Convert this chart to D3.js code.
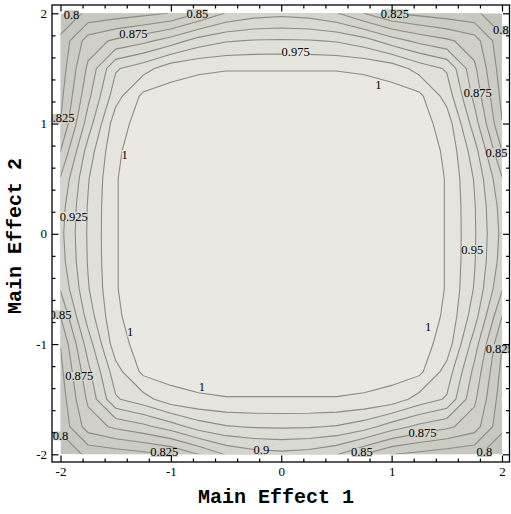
<!DOCTYPE html>
<html>
<head>
<meta charset="utf-8">
<title>Main effects contour</title>
<script src="https://cdn.jsdelivr.net/npm/d3@7"></script>
<style>
  body { margin: 0; background: #fff; }
  .tick text { font: 13px "Liberation Serif", serif; fill: #000; }
  .tick line { stroke: #000; stroke-width: 1.2px; }
  .title { font: bold 20px "Liberation Mono", monospace; fill: #000; }
  .clabel { font: 12.5px "Liberation Serif", serif; fill: #000; }
</style>
</head>
<body>
<script>
// contour levels drawn in the picture
var levels = [0.8, 0.825, 0.85, 0.875, 0.9, 0.925, 0.95, 0.975, 1];

// sampled surface, x = -2..2 step 0.25 (columns), y = 2..-2 step 0.25 (rows)
var surface = [
  [0.780, 0.806, 0.811, 0.818, 0.826, 0.850, 0.877, 0.889, 0.893, 0.889, 0.877, 0.850, 0.826, 0.818, 0.811, 0.806, 0.780],
  [0.806, 0.862, 0.880, 0.893, 0.912, 0.936, 0.948, 0.952, 0.953, 0.952, 0.948, 0.936, 0.912, 0.893, 0.880, 0.862, 0.806],
  [0.811, 0.880, 0.947, 0.965, 0.990, 0.997, 0.999, 0.999, 0.999, 0.999, 0.999, 0.997, 0.990, 0.965, 0.947, 0.880, 0.811],
  [0.818, 0.893, 0.965, 1.006, 1.010, 1.010, 1.010, 1.010, 1.010, 1.010, 1.010, 1.010, 1.010, 1.006, 0.965, 0.893, 0.818],
  [0.826, 0.912, 0.990, 1.010, 1.010, 1.010, 1.010, 1.010, 1.010, 1.010, 1.010, 1.010, 1.010, 1.010, 0.990, 0.912, 0.826],
  [0.850, 0.936, 0.997, 1.010, 1.010, 1.010, 1.010, 1.010, 1.010, 1.010, 1.010, 1.010, 1.010, 1.010, 0.997, 0.936, 0.850],
  [0.877, 0.948, 0.999, 1.010, 1.010, 1.010, 1.010, 1.010, 1.010, 1.010, 1.010, 1.010, 1.010, 1.010, 0.999, 0.948, 0.877],
  [0.889, 0.952, 0.999, 1.010, 1.010, 1.010, 1.010, 1.010, 1.010, 1.010, 1.010, 1.010, 1.010, 1.010, 0.999, 0.952, 0.889],
  [0.893, 0.953, 0.999, 1.010, 1.010, 1.010, 1.010, 1.010, 1.010, 1.010, 1.010, 1.010, 1.010, 1.010, 0.999, 0.953, 0.893],
  [0.889, 0.952, 0.999, 1.010, 1.010, 1.010, 1.010, 1.010, 1.010, 1.010, 1.010, 1.010, 1.010, 1.010, 0.999, 0.952, 0.889],
  [0.877, 0.948, 0.999, 1.010, 1.010, 1.010, 1.010, 1.010, 1.010, 1.010, 1.010, 1.010, 1.010, 1.010, 0.999, 0.948, 0.877],
  [0.850, 0.936, 0.997, 1.010, 1.010, 1.010, 1.010, 1.010, 1.010, 1.010, 1.010, 1.010, 1.010, 1.010, 0.997, 0.936, 0.850],
  [0.826, 0.912, 0.990, 1.010, 1.010, 1.010, 1.010, 1.010, 1.010, 1.010, 1.010, 1.010, 1.010, 1.010, 0.990, 0.912, 0.826],
  [0.818, 0.893, 0.965, 1.006, 1.010, 1.010, 1.010, 1.010, 1.010, 1.010, 1.010, 1.010, 1.010, 1.006, 0.965, 0.893, 0.818],
  [0.811, 0.880, 0.947, 0.965, 0.990, 0.997, 0.999, 0.999, 0.999, 0.999, 0.999, 0.997, 0.990, 0.965, 0.947, 0.880, 0.811],
  [0.806, 0.862, 0.880, 0.893, 0.912, 0.936, 0.948, 0.952, 0.953, 0.952, 0.948, 0.936, 0.912, 0.893, 0.880, 0.862, 0.806],
  [0.780, 0.806, 0.811, 0.818, 0.826, 0.850, 0.877, 0.889, 0.893, 0.889, 0.877, 0.850, 0.826, 0.818, 0.811, 0.806, 0.780]
];

// where the level labels sit: [level, x, y]
var labelSpots = [
  [0.8, -1.9, 1.99], [0.85, -0.76, 2.0], [0.825, 1.03, 2.0], [0.8, 1.99, 1.85],
  [0.875, -1.34, 1.82], [0.975, 0.13, 1.65], [1, 0.88, 1.35], [0.875, 1.78, 1.28],
  [0.825, -2.0, 1.05], [1, -1.42, 0.72], [0.85, 1.95, 0.74], [0.925, -1.88, 0.16],
  [0.95, 1.73, -0.14], [0.85, -2.0, -0.73], [1, -1.37, -0.89], [1, 1.33, -0.84],
  [0.825, 1.98, -1.04], [0.875, -1.83, -1.29], [1, -0.72, -1.39], [0.8, -2.0, -1.83],
  [0.875, 1.28, -1.8], [0.825, -1.06, -1.98], [0.9, -0.18, -1.96], [0.85, 0.73, -1.98],
  [0.8, 1.84, -1.98]
];

var majorTicks = [-2, -1, 0, 1, 2];
var minorTicks = [-1.8, -1.6, -1.4, -1.2, -0.8, -0.6, -0.4, -0.2, 0.2, 0.4, 0.6, 0.8, 1.2, 1.4, 1.6, 1.8];

var width = 511, height = 514;
var step = 0.25, n = surface.length;
var frame = {left: 52, right: 509.5, top: 5, bottom: 462};

var x = d3.scaleLinear().domain([-2, 2]).range([60.5, 502]);
var y = d3.scaleLinear().domain([-2, 2]).range([454.3, 13.3]);

var shade = d3.range(levels.length + 1).map(function (i) {
    return d3.interpolateRgb("#c3c4bb", "#e9e9e1")(i / levels.length);
});

var svg = d3.select("body").append("svg")
    .attr("width", width)
    .attr("height", height);

svg.append("clipPath").attr("id", "plot")
    .append("rect")
    .attr("x", x(-2)).attr("y", y(2))
    .attr("width", x(2) - x(-2)).attr("height", y(-2) - y(2));

svg.append("clipPath").attr("id", "frame")
    .append("rect")
    .attr("x", frame.left).attr("y", frame.top)
    .attr("width", frame.right - frame.left).attr("height", frame.bottom - frame.top);

// grid coords -> data -> pixels
var proj = d3.geoTransform({
    point: function (cx, cy) {
        this.stream.point(x(-2 + (cx - 0.5) * step), y(2 - (cy - 0.5) * step));
    }
});
var path = d3.geoPath(proj);

var bands = d3.contours()
    .size([n, n])
    .thresholds(levels)(d3.merge(surface));

var plot = svg.append("g").attr("clip-path", "url(#plot)");

plot.append("rect")
    .attr("x", x(-2)).attr("y", y(2))
    .attr("width", x(2) - x(-2)).attr("height", y(-2) - y(2))
    .attr("fill", shade[0]);

plot.selectAll("path.band")
    .data(bands)
    .enter().append("path")
    .attr("class", "band")
    .attr("d", path)
    .attr("fill", function (d, i) { return shade[i + 1]; })
    .attr("stroke", "#8b8b87")
    .attr("stroke-width", 1.1);

// contour labels, each on a small patch of its band colour
var lab = svg.append("g")
    .attr("clip-path", "url(#frame)")
    .style("opacity", 0.999);   // keeps text antialiasing grey, not coloured
var lg = lab.selectAll("g")
    .data(labelSpots)
    .enter().append("g");

lg.append("text")
    .attr("class", "clabel")
    .attr("x", function (d) { return x(d[1]); })
    .attr("y", function (d) { return y(d[2]); })
    .attr("dy", "0.35em")
    .attr("text-anchor", "middle")
    .text(function (d) { return d[0]; });

lg.insert("rect", "text")
    .each(function (d) {
        var b = this.parentNode.querySelector("text").getBBox();
        d3.select(this)
            .attr("x", b.x + 0.5).attr("y", b.y + 2.5)
            .attr("width", b.width - 1).attr("height", b.height - 5)
            .attr("fill", shade[levels.indexOf(d[0]) + 1]);
    });

// frame
svg.append("rect")
    .attr("x", frame.left).attr("y", frame.top)
    .attr("width", frame.right - frame.left).attr("height", frame.bottom - frame.top)
    .attr("fill", "none")
    .attr("stroke", "#000")
    .attr("stroke-width", 1.3);

function ticks(axis, vals, size, labels) {
    return axis.tickValues(vals).tickSize(-size).tickPadding(5)
        .tickFormat(labels ? function (d) { return d3.format("d")(d).replace("−", "-"); } : "");
}

function drawAxis(axis, tr) {
    svg.append("g").attr("transform", tr).call(axis)
        .call(function (g) { g.select(".domain").remove(); });
}

drawAxis(ticks(d3.axisBottom(x), majorTicks, 6.5, true), "translate(0," + frame.bottom + ")");
drawAxis(ticks(d3.axisBottom(x), minorTicks, 3.5, false), "translate(0," + frame.bottom + ")");
drawAxis(ticks(d3.axisTop(x), majorTicks, 6.5, false), "translate(0," + frame.top + ")");
drawAxis(ticks(d3.axisTop(x), minorTicks, 3.5, false), "translate(0," + frame.top + ")");
drawAxis(ticks(d3.axisLeft(y), majorTicks, 6.5, true), "translate(" + frame.left + ",0)");
drawAxis(ticks(d3.axisLeft(y), minorTicks, 3.5, false), "translate(" + frame.left + ",0)");
drawAxis(ticks(d3.axisRight(y), majorTicks, 6.5, false), "translate(" + frame.right + ",0)");
drawAxis(ticks(d3.axisRight(y), minorTicks, 3.5, false), "translate(" + frame.right + ",0)");

svg.append("text")
    .attr("class", "title")
    .attr("x", 276).attr("y", 503)
    .attr("text-anchor", "middle")
    .text("Main Effect 1");

svg.append("text")
    .attr("class", "title")
    .attr("transform", "translate(21,236) rotate(-90)")
    .attr("text-anchor", "middle")
    .text("Main Effect 2");
</script>
</body>
</html>
